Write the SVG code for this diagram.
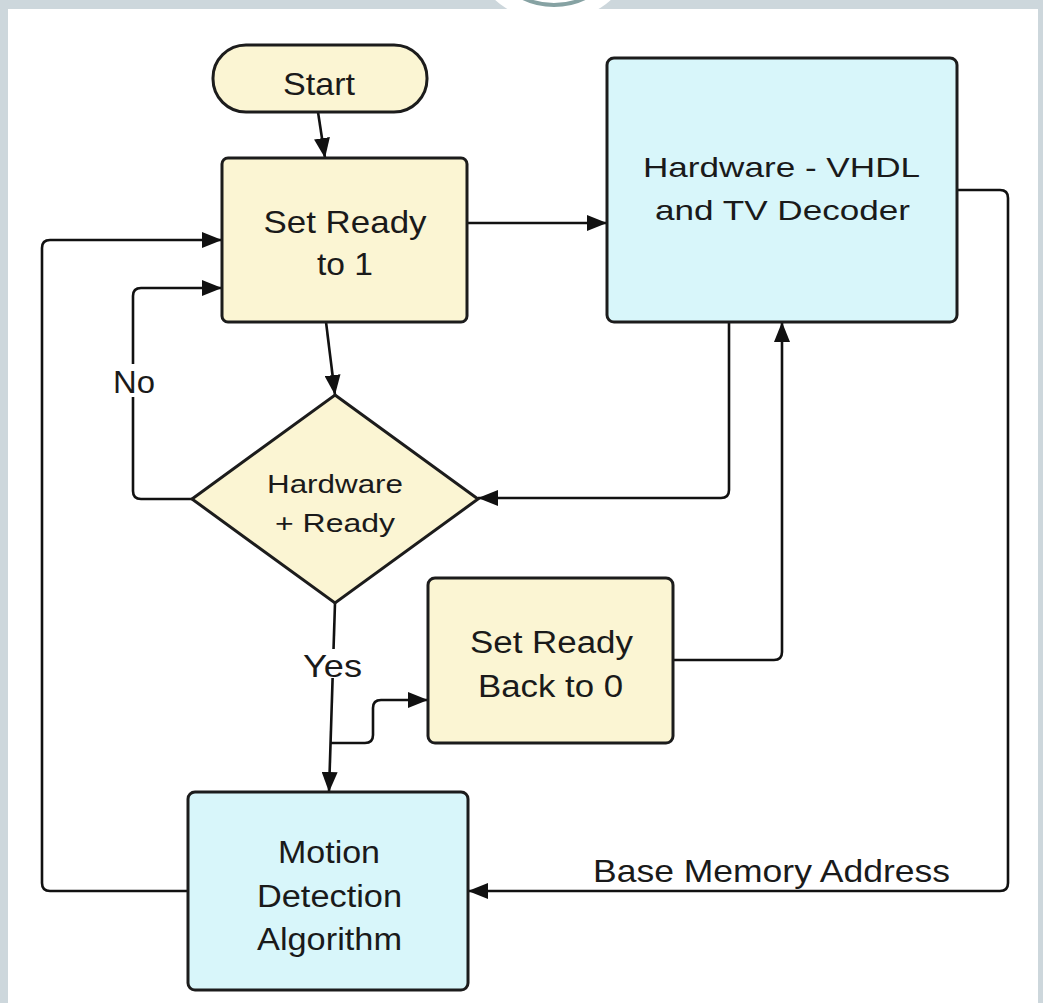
<svg xmlns="http://www.w3.org/2000/svg" width="1043" height="1003" viewBox="0 0 1043 1003">
  <defs>
    <marker id="arrow" markerUnits="userSpaceOnUse" markerWidth="20" markerHeight="16" refX="20" refY="8" orient="auto">
      <path d="M0,0 L20,8 L0,16 Z" fill="#111"/>
    </marker>
  </defs>
  <style>
    .frame { fill: #cdd7dc; }
    .sheet { fill: #ffffff; }
    .proc { fill: #fbf5d3; stroke: #1c1c1c; stroke-width: 3; }
    .io { fill: #d8f6fa; stroke: #1c1c1c; stroke-width: 3; }
    .wire { fill: none; stroke: #111; stroke-width: 2.6; }
    .lbl { font-family: "Liberation Sans", Arial, sans-serif; fill: #1a1a1a; text-anchor: middle; }
    .lblbg { fill: #ffffff; }
  </style>

  <!-- page frame -->
  <rect class="frame" x="0" y="0" width="1043" height="1003"/>
  <rect class="sheet" x="8" y="9" width="1030" height="994"/>
  <circle cx="553" cy="-65" r="87" fill="#ffffff"/>
  <circle cx="554" cy="-65" r="70" fill="none" stroke="#86a2a3" stroke-width="4"/>

  <!-- connectors -->
  <g id="connectors">
    <line class="wire" x1="318" y1="112" x2="325" y2="158" marker-end="url(#arrow)"/>
    <line class="wire" x1="467" y1="223" x2="607" y2="223" marker-end="url(#arrow)"/>
    <line class="wire" x1="326" y1="322" x2="335" y2="395" marker-end="url(#arrow)"/>
    <!-- No branch back to Set Ready -->
    <path class="wire" d="M192,499 H141 Q133,499 133,491 V296 Q133,288 141,288 H222" marker-end="url(#arrow)"/>
    <!-- loop from Motion Detection back to Set Ready -->
    <path class="wire" d="M188,891 H50 Q42,891 42,883 V248 Q42,240 50,240 H222" marker-end="url(#arrow)"/>
    <!-- Hardware output to decision -->
    <path class="wire" d="M729,322 V490 Q729,498 721,498 H478" marker-end="url(#arrow)"/>
    <!-- Set Ready Back to 0 into Hardware -->
    <path class="wire" d="M673,660 H774 Q782,660 782,652 V322" marker-end="url(#arrow)"/>
    <!-- Base memory address to Motion Detection -->
    <path class="wire" d="M957,190 H1000 Q1008,190 1008,198 V883 Q1008,891 1000,891 H468" marker-end="url(#arrow)"/>
    <!-- Yes branch -->
    <line class="wire" x1="335" y1="603" x2="329" y2="792" marker-end="url(#arrow)"/>
    <path class="wire" d="M331,743 H365 Q373,743 373,735 V708 Q373,700 381,700 H428" marker-end="url(#arrow)"/>
    <!-- branch labels -->
    <rect class="lblbg" x="112" y="364" width="44" height="33"/>
    <text class="lbl" x="134" y="393" font-size="32" textLength="42" lengthAdjust="spacingAndGlyphs">No</text>
    <rect class="lblbg" x="302" y="649" width="62" height="29"/>
    <text class="lbl" x="332.5" y="677" font-size="32" textLength="59" lengthAdjust="spacingAndGlyphs">Yes</text>
    <text class="lbl" x="771.5" y="882" font-size="32" textLength="357" lengthAdjust="spacingAndGlyphs">Base Memory Address</text>
  </g>

  <g id="start">
    <rect class="proc" x="213" y="45" width="214" height="67" rx="33" ry="33"/>
    <text class="lbl" x="319" y="95" font-size="32" textLength="72" lengthAdjust="spacingAndGlyphs">Start</text>
  </g>

  <g id="set-ready">
    <rect class="proc" x="222" y="158" width="245" height="164" rx="6"/>
    <text class="lbl" x="345" y="233" font-size="32" textLength="163" lengthAdjust="spacingAndGlyphs">Set Ready</text>
    <text class="lbl" x="345" y="275" font-size="32" textLength="56" lengthAdjust="spacingAndGlyphs">to 1</text>
  </g>

  <g id="hardware">
    <rect class="io" x="607" y="58" width="350" height="264" rx="7"/>
    <text class="lbl" x="781.5" y="177" font-size="28" textLength="277" lengthAdjust="spacingAndGlyphs">Hardware - VHDL</text>
    <text class="lbl" x="782.5" y="220" font-size="28" textLength="255" lengthAdjust="spacingAndGlyphs">and TV Decoder</text>
  </g>

  <g id="decision">
    <polygon class="proc" points="335,395 478,499 335,603 192,499"/>
    <text class="lbl" x="335" y="493" font-size="26" textLength="136" lengthAdjust="spacingAndGlyphs">Hardware</text>
    <text class="lbl" x="335" y="532" font-size="26" textLength="120" lengthAdjust="spacingAndGlyphs">+ Ready</text>
  </g>

  <g id="set-ready-back">
    <rect class="proc" x="428" y="578" width="245" height="165" rx="7"/>
    <text class="lbl" x="551.5" y="653" font-size="31" textLength="163" lengthAdjust="spacingAndGlyphs">Set Ready</text>
    <text class="lbl" x="550.5" y="697" font-size="31" textLength="145" lengthAdjust="spacingAndGlyphs">Back to 0</text>
  </g>

  <g id="motion-detection">
    <rect class="io" x="188" y="792" width="280" height="198" rx="7"/>
    <text class="lbl" x="329" y="863" font-size="31" textLength="102" lengthAdjust="spacingAndGlyphs">Motion</text>
    <text class="lbl" x="329.5" y="907" font-size="31" textLength="145" lengthAdjust="spacingAndGlyphs">Detection</text>
    <text class="lbl" x="329.5" y="950" font-size="31" textLength="145" lengthAdjust="spacingAndGlyphs">Algorithm</text>
  </g>
</svg>
